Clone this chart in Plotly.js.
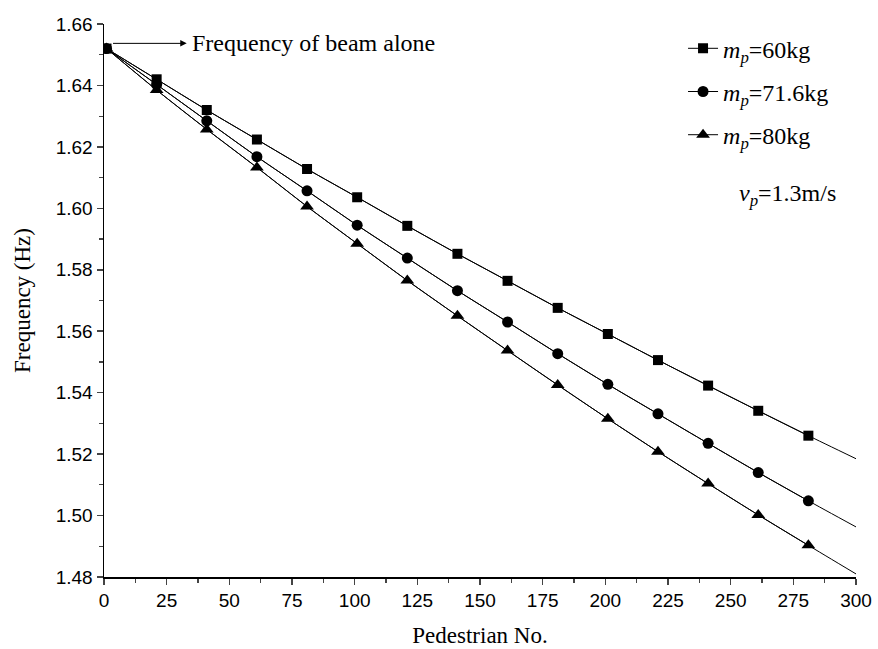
<!DOCTYPE html>
<html>
<head>
<meta charset="utf-8">
<script src="https://cdn.plot.ly/plotly-3.0.1.min.js"></script>
<style>html,body{margin:0;padding:0;background:#fff;}#chart{width:878px;height:649px;}</style>
</head>
<body>
<div id="chart"></div>
<script>
// Pedestrian number (markers every 20, curve extends to 300)
const pedestrianNo = [1, 21, 41, 61, 81, 101, 121, 141, 161, 181, 201, 221, 241, 261, 281, 300];
// Frequency (Hz) for each pedestrian mass
const freq60kg   = [1.6520, 1.6420, 1.6320, 1.6224, 1.6128, 1.6036, 1.5943, 1.5852, 1.5764, 1.5676, 1.5591, 1.5506, 1.5423, 1.5341, 1.5260, 1.5185];
const freq716kg  = [1.6520, 1.6403, 1.6285, 1.6168, 1.6057, 1.5945, 1.5838, 1.5732, 1.5630, 1.5527, 1.5427, 1.5331, 1.5235, 1.5140, 1.5048, 1.4963];
const freq80kg   = [1.6520, 1.6385, 1.6257, 1.6133, 1.6006, 1.5885, 1.5765, 1.5650, 1.5537, 1.5425, 1.5315, 1.5208, 1.5104, 1.5002, 1.4903, 1.4810];
const seriesNames = ['<i>m</i><sub><i>p</i></sub>=60kg', '<i>m</i><sub><i>p</i></sub>=71.6kg', '<i>m</i><sub><i>p</i></sub>=80kg'];
const seriesSymbols = ['square', 'circle', 'triangle-up'];
const seriesMarkerSizes = [10, 11, 12];
const beamAloneLabel = 'Frequency of beam alone';
const speedLabel = '<i>v</i><sub><i>p</i></sub>=1.3m/s';

const serif = '"Liberation Serif", "Times New Roman", serif';
const sans = '"Liberation Sans", Arial, sans-serif';

const allSeries = [freq60kg, freq716kg, freq80kg];
const traces = [];
allSeries.forEach((ys, i) => {
  // full smooth curve to x=300
  traces.push({
    x: pedestrianNo, y: ys, type: 'scatter', mode: 'lines',
    line: {color: '#000', width: 1, shape: 'spline', smoothing: 0.6},
    showlegend: false, hoverinfo: 'skip', legendgroup: 'g' + i
  });
  // markers (without the end point at 300)
  traces.push({
    x: pedestrianNo.slice(0, -1), y: ys.slice(0, -1), type: 'scatter', mode: 'lines+markers',
    name: seriesNames[i], legendgroup: 'g' + i,
    line: {color: '#000', width: 1, shape: 'spline', smoothing: 0.6},
    marker: {symbol: seriesSymbols[i], size: seriesMarkerSizes[i], color: '#000'}
  });
});

const layout = {
  width: 878, height: 649,
  margin: {l: 104, r: 22, t: 24, b: 72, pad: 0},
  paper_bgcolor: '#fff', plot_bgcolor: '#fff',
  showlegend: true,
  legend: {
    x: 0.770, y: 0.996, xanchor: 'left', yanchor: 'top',
    font: {family: serif, size: 24, color: '#000'},
    bgcolor: 'rgba(0,0,0,0)', borderwidth: 0,
    traceorder: 'grouped', tracegroupgap: 9
  },
  xaxis: {
    range: [0, 300], tick0: 0, dtick: 25, ticks: 'outside', ticklen: 6, tickwidth: 1.5,
    showline: true, linewidth: 1.5, linecolor: '#000', showgrid: false, zeroline: false,
    tickfont: {family: sans, size: 19, color: '#000'},
    minor: {dtick: 12.5, ticks: 'outside', ticklen: 4, tickwidth: 1.2, showgrid: false},
    title: {text: 'Pedestrian No.', font: {family: serif, size: 23, color: '#000'}, standoff: 16}
  },
  yaxis: {
    range: [1.48, 1.66], tick0: 1.48, dtick: 0.02, ticks: 'outside', ticklen: 6, tickwidth: 1.5,
    tickformat: '.2f',
    showline: true, linewidth: 1.5, linecolor: '#000', showgrid: false, zeroline: false,
    tickfont: {family: sans, size: 19, color: '#000'},
    minor: {dtick: 0.01, ticks: 'outside', ticklen: 4, tickwidth: 1.2, showgrid: false},
    title: {text: 'Frequency (Hz)', font: {family: serif, size: 23, color: '#000'}, standoff: 18}
  },
  xaxis2: {
    overlaying: 'x', side: 'top', anchor: 'y', range: [0, 300], tick0: 0, dtick: 30,
    ticks: 'outside', ticklen: 4, tickwidth: 1.2, showticklabels: false,
    showline: true, linewidth: 1.5, linecolor: '#000', showgrid: false, zeroline: false
  },
  yaxis2: {
    overlaying: 'y', side: 'right', anchor: 'x', range: [1.48, 1.66], tick0: 1.48, dtick: 0.018,
    ticks: 'outside', ticklen: 4, tickwidth: 1.2, showticklabels: false,
    showline: true, linewidth: 1.5, linecolor: '#000', showgrid: false, zeroline: false
  },
  annotations: [
    {x: 33, y: 1.6537, xref: 'x', yref: 'y', ax: 3, ay: 1.6537, axref: 'x', ayref: 'y',
     text: '', showarrow: true, arrowhead: 2, arrowsize: 1.3, arrowwidth: 1, arrowcolor: '#000'},
    {x: 34.5, y: 1.6537, xref: 'x', yref: 'y', xanchor: 'left', yanchor: 'middle', showarrow: false,
     text: beamAloneLabel, font: {family: serif, size: 24, color: '#000'}},
    {x: 292.8, y: 1.6044, xref: 'x', yref: 'y', xanchor: 'right', yanchor: 'middle', showarrow: false,
     text: speedLabel, font: {family: serif, size: 24, color: '#000'}}
  ]
};

Plotly.newPlot('chart', traces, layout, {displayModeBar: false, staticPlot: true});
</script>
</body>
</html>
